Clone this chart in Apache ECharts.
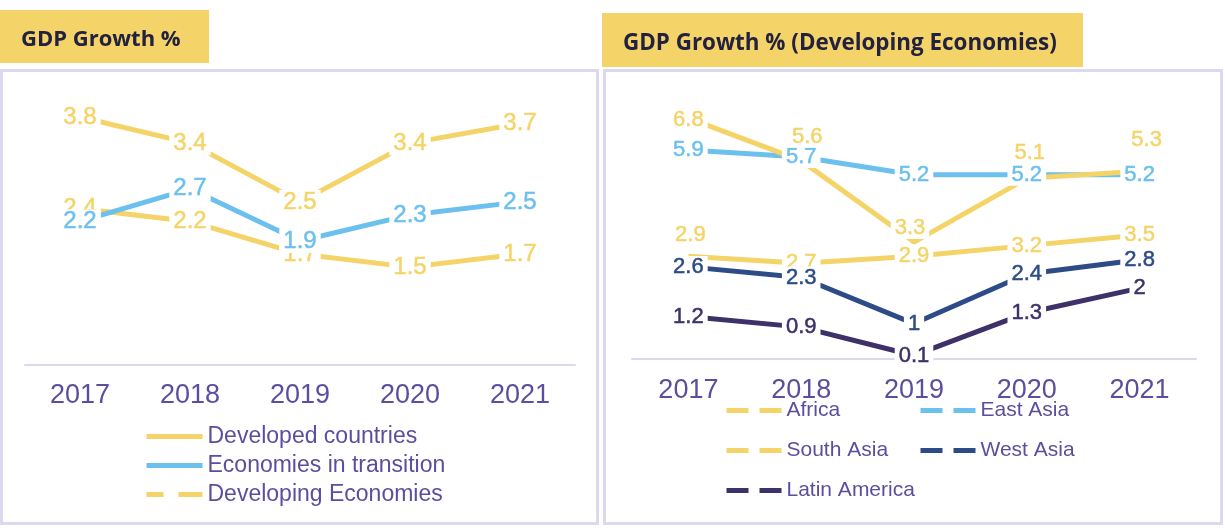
<!DOCTYPE html>
<html>
<head>
<meta charset="utf-8">
<script src="https://cdn.jsdelivr.net/npm/echarts@6/dist/echarts.min.js"></script>
<style>
    html, body { margin: 0; padding: 0; background: #fff; }
    #main { width: 1225px; height: 529px; }
</style>
</head>
<body>
<div id="main"></div>
<script>
// categories
var years = ['2017', '2018', '2019', '2020', '2021'];

// left chart: GDP Growth %
var developed = [2.4, 2.2, 1.7, 1.5, 1.7];
var transition = [2.2, 2.7, 1.9, 2.3, 2.5];
var developing = [3.8, 3.4, 2.5, 3.4, 3.7];

// right chart: GDP Growth % (Developing Economies)
var africa = [6.8, 5.6, 3.3, 5.1, 5.3];
var eastAsia = [5.9, 5.7, 5.2, 5.2, 5.2];
var southAsia = [2.9, 2.7, 2.9, 3.2, 3.5];
var westAsia = [2.6, 2.3, 1, 2.4, 2.8];
var latinAmerica = [1.2, 0.9, 0.1, 1.3, 2];

// labels that were moved by hand in the original
var africaLabelShift = [[0, 2], [6, -24], [-4, -14], [3, -25], [7, -31]];
var southAsiaLabelShift = [[2, -21], [0, 0], [0, 0], [0, 0], [0, 0]];

var YELLOW = '#F4D468';
var BLUE = '#6CC0EE';
var NAVY = '#2C4B87';
var PURPLE = '#3E3068';
var TEXT = '#5B4E9E';
var BORDER = '#DCD9EE';
var FONT = "'Liberation Sans', Arial, sans-serif";

function withShift(values, shift) {
    return values.map(function (v, i) {
        return { value: v, label: { offset: shift[i] } };
    });
}

function lineSeries(name, data, color, axis, fontSize) {
    return {
        name: name,
        type: 'line',
        xAxisIndex: axis,
        yAxisIndex: axis,
        data: data,
        symbol: 'circle',
        symbolSize: 2,
        showSymbol: true,
        itemStyle: { color: 'rgba(0,0,0,0)' },
        lineStyle: { color: color, width: 5 },
        label: {
            show: true,
            position: 'inside',
            color: color,
            fontSize: fontSize,
            fontFamily: FONT,
            textBorderColor: color,
            textBorderWidth: 0.5,
            backgroundColor: '#fff',
            padding: [0, 4]
        },
        emphasis: { disabled: true },
        animation: false
    };
}

function xAxisOf(grid) {
    return {
        type: 'category',
        gridIndex: grid,
        data: years,
        boundaryGap: true,
        axisTick: { show: false },
        axisLine: { lineStyle: { color: BORDER, width: 2 } },
        axisLabel: {
            color: TEXT,
            fontSize: 27,
            fontFamily: FONT,
            margin: grid === 0 ? 17 : 18
        }
    };
}

function yAxisOf(grid, max) {
    return {
        type: 'value',
        gridIndex: grid,
        min: 0,
        max: max,
        show: false,
        splitLine: { show: false }
    };
}

function rightLegend(name, left, top) {
    return {
        data: [name],
        left: left,
        top: top,
        itemWidth: 55,
        itemHeight: 16,
        selectedMode: false,
        lineStyle: { type: [22, 11], width: 5 },
        textStyle: { color: TEXT, fontSize: 21, fontFamily: FONT }
    };
}

var myChart = echarts.init(document.getElementById('main'));

var option = {
    backgroundColor: '#fff',
    animation: false,
    graphic: [
        // panel frames
        { type: 'rect', shape: { x: 1.5, y: 70.5, width: 596, height: 453 }, style: { fill: '#fff', stroke: BORDER, lineWidth: 3 }, z: -10 },
        { type: 'rect', shape: { x: 604.5, y: 70.5, width: 617, height: 453 }, style: { fill: '#fff', stroke: BORDER, lineWidth: 3 }, z: -10 },
        // title boxes
        { type: 'rect', shape: { x: 0, y: 10, width: 209, height: 53 }, style: { fill: YELLOW }, z: -5 },
        { type: 'text', x: 21, y: 40, style: { text: 'GDP Growth %', fill: '#22213F', font: 'bold 22px "Open Sans"', verticalAlign: 'middle' } },
        { type: 'rect', shape: { x: 602, y: 13, width: 481, height: 54 }, style: { fill: YELLOW }, z: -5 },
        { type: 'text', x: 623, y: 44, style: { text: 'GDP Growth % (Developing Economies)', fill: '#22213F', font: 'bold 22.4px "Open Sans"', verticalAlign: 'middle' } }
    ],
    legend: [
        {
            orient: 'vertical',
            left: 139,
            top: 420,
            itemWidth: 56,
            itemHeight: 20,
            itemGap: 6,
            selectedMode: false,
            lineStyle: { width: 5 },
            textStyle: { color: TEXT, fontSize: 23, fontFamily: FONT },
            data: [
                { name: 'Developed countries' },
                { name: 'Economies in transition' },
                { name: 'Developing Economies', lineStyle: { type: [17, 15, 24, 0] } }
            ]
        },
        rightLegend('Africa', 719, 395),
        rightLegend('East Asia', 913, 395),
        rightLegend('South Asia', 719, 435),
        rightLegend('West Asia', 913, 435),
        rightLegend('Latin America', 719, 475)
    ],
    grid: [
        { left: 25, top: 104, width: 550, height: 261 },
        { left: 632, top: 111, width: 564, height: 248 }
    ],
    xAxis: [xAxisOf(0), xAxisOf(1)],
    yAxis: [yAxisOf(0, 4), yAxisOf(1, 7)],
    series: [
        lineSeries('Developed countries', developed, YELLOW, 0, 24),
        lineSeries('Developing Economies', developing, YELLOW, 0, 24),
        lineSeries('Economies in transition', transition, BLUE, 0, 24),

        lineSeries('East Asia', eastAsia, BLUE, 1, 22),
        lineSeries('Africa', withShift(africa, africaLabelShift), YELLOW, 1, 22),
        lineSeries('South Asia', withShift(southAsia, southAsiaLabelShift), YELLOW, 1, 22),
        lineSeries('West Asia', westAsia, NAVY, 1, 22),
        lineSeries('Latin America', latinAmerica, PURPLE, 1, 22)
    ]
};

myChart.setOption(option);
window.addEventListener("resize", function () {
    myChart.resize();
});
</script>
</body>
</html>
